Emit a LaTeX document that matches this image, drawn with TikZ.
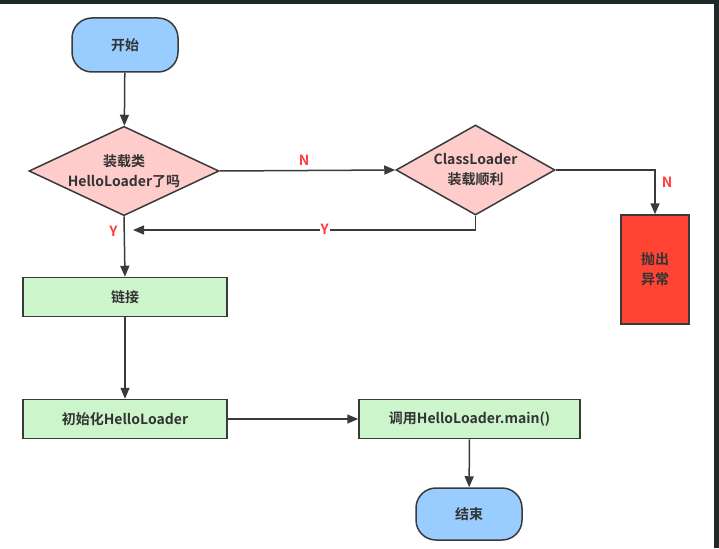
\documentclass[tikz,border=0pt]{standalone}
\usepackage{fontspec}
\setmainfont{Noto Sans CJK SC}[BoldFont={Noto Sans CJK SC Bold}]
\usetikzlibrary{shapes.geometric,arrows.meta}
\definecolor{edge}{HTML}{3A3A3A}
\definecolor{txt}{HTML}{333333}
\definecolor{bluef}{HTML}{99CCFF}
\definecolor{pinkf}{HTML}{FFCCCC}
\definecolor{greenf}{HTML}{CCF5CC}
\definecolor{redf}{HTML}{FF4433}
\definecolor{lblred}{HTML}{FF3B3B}
\definecolor{frame}{HTML}{1E2A2A}
\tikzset{
  base/.style={draw=edge, line width=1.5pt, text=txt, font=\bfseries\fontsize{14}{20}\selectfont, align=center, inner sep=0pt},
  term/.style={base, fill=bluef, rounded corners=20pt, minimum width=106pt, minimum height=54pt},
  decide/.style={base, fill=pinkf, diamond, aspect=2, minimum width=190pt, minimum height=88pt},
  proc/.style={base, fill=greenf, rectangle, minimum width=204pt, minimum height=39pt},
  err/.style={base, fill=redf, rectangle, minimum width=68pt, minimum height=109pt},
  conn/.style={draw=edge, line width=1.5pt, -{Triangle[length=11pt,width=9pt]}},
  lbl/.style={text=lblred, font=\bfseries\fontsize{14}{16}\selectfont, inner sep=1pt}
}
\begin{document}
\begin{tikzpicture}[x=1pt,y=-1pt]
\useasboundingbox (0,0) rectangle (719,548);
\fill[white] (0,0) rectangle (719,548);
\fill[frame] (0,0) rectangle (719,4);
\fill[frame] (714,0) rectangle (719,548);

\node[term] (start) at (125,45) {开始};
\node[decide, minimum width=190pt, minimum height=88pt] (d1) at (124,171) {装载类\\HelloLoader了吗};
\node[decide, minimum width=159pt, minimum height=90pt] (d2) at (475.5,170) {ClassLoader\\装载顺利};
\node[err] (exc) at (655,269.5) {抛出\\异常};
\node[proc] (link) at (125,297) {链接};
\node[proc] (init) at (125,419) {初始化HelloLoader};
\node[proc, minimum width=221pt] (call) at (469.5,419) {调用HelloLoader.main()};
\node[term, minimum height=52pt] (end) at (469,514) {结束};
\coordinate (yin) at (133,230);

\draw[conn] (start) -- (d1);
\draw[conn] (d1.east) -- (d2.west) node[lbl, pos=0.48, above=3pt] (n1) {N};
\draw[conn] (d2.east) -| (exc.north) node[lbl, pos=0.64, right=5pt] (n2) {N};
\draw[conn] (d2.south) |- (yin) node[lbl, pos=0.72, fill=white, yshift=1pt] (y2) {Y};
\draw[conn] (d1.south) -- (link.north) node[lbl, pos=0.25, left=5pt] (y1) {Y};
\draw[conn] (link) -- (init);
\draw[conn] (init) -- (call);
\draw[conn] (call) -- (end);
\end{tikzpicture}
\end{document}
